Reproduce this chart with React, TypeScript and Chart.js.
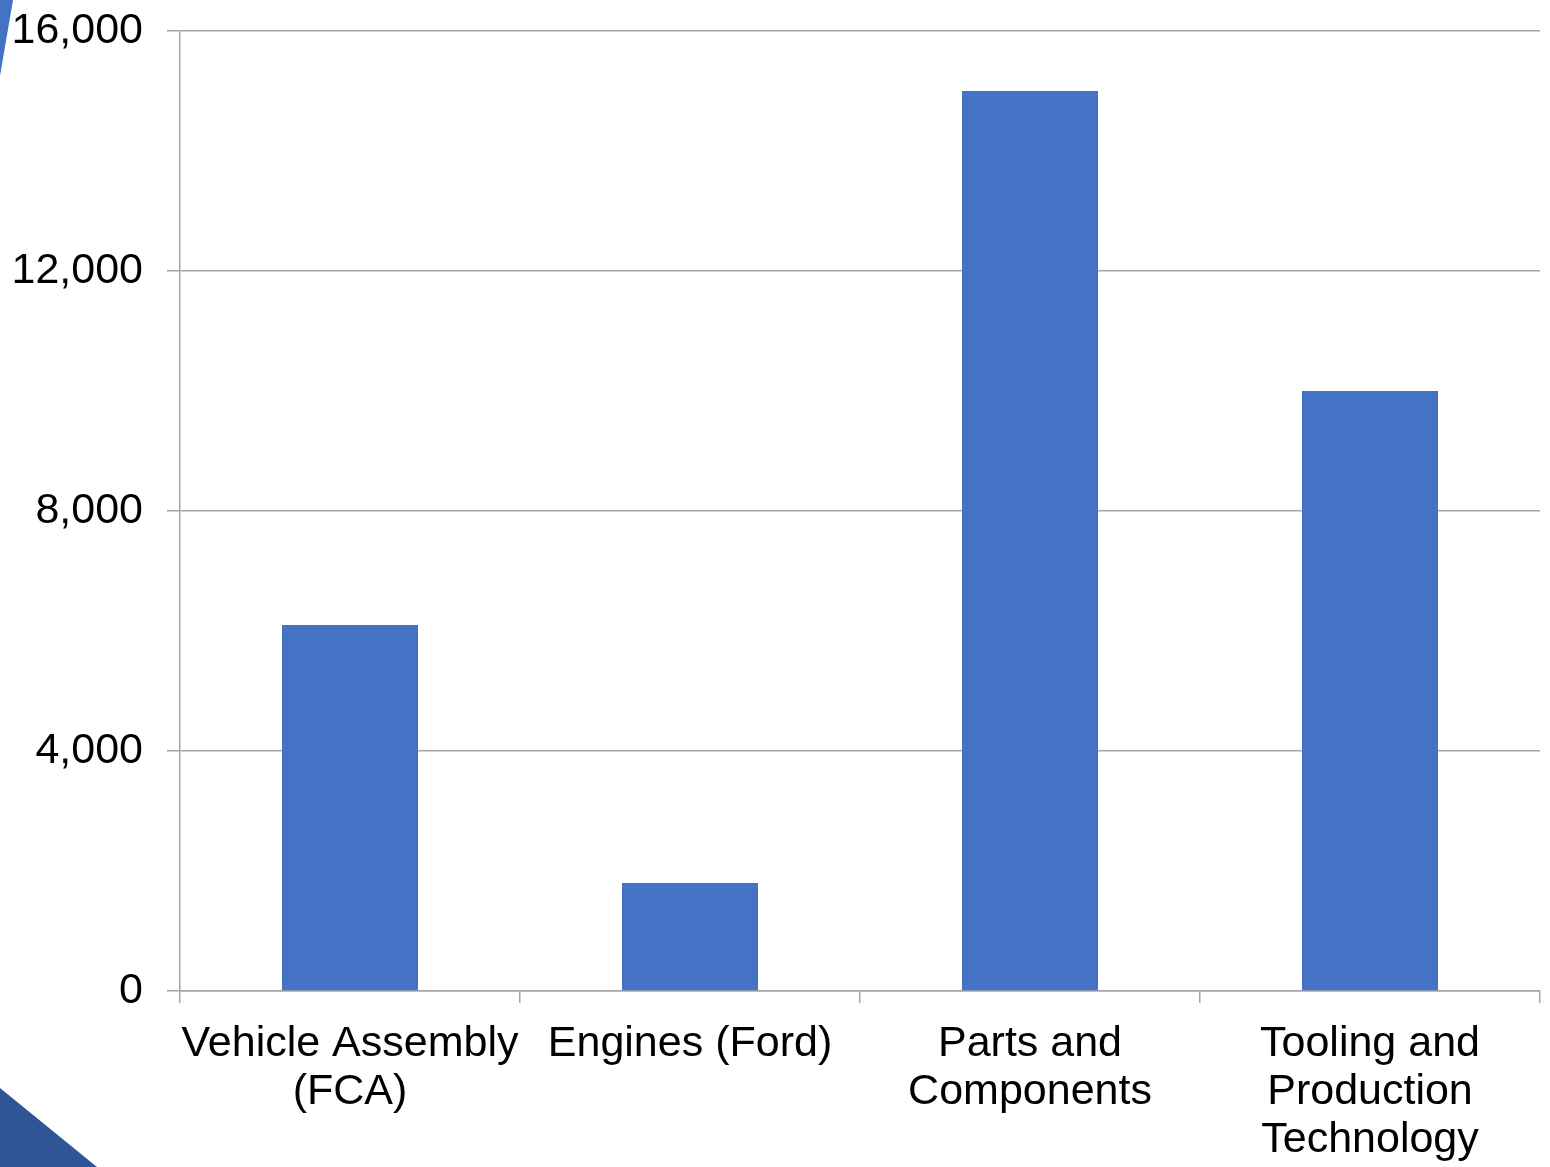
import React, { useEffect, useRef } from "react";
import { Chart, registerables } from "chart.js";

Chart.register(...registerables);

const categories: string[][] = [
  ["Vehicle Assembly", "(FCA)"],
  ["Engines (Ford)"],
  ["Parts and", "Components"],
  ["Tooling and", "Production", "Technology"],
];
const jobs: number[] = [6100, 1800, 15000, 10000];
const yTicks: number[] = [0, 4000, 8000, 12000, 16000];

const FONT = "'Liberation Sans', Arial, sans-serif";

// Slide decorations in the corners of the canvas
const cornerShapes = {
  id: "cornerShapes",
  beforeDraw(chart: Chart) {
    const { ctx, height } = chart;
    ctx.save();
    ctx.fillStyle = "#4472C4";
    ctx.beginPath();
    ctx.moveTo(0, 0);
    ctx.lineTo(13, 0);
    ctx.lineTo(0, 76);
    ctx.closePath();
    ctx.fill();
    ctx.fillStyle = "#2F5597";
    ctx.beginPath();
    ctx.moveTo(0, height - 79);
    ctx.lineTo(97, height);
    ctx.lineTo(0, height);
    ctx.closePath();
    ctx.fill();
    ctx.restore();
  },
};

export default function App() {
  const ref = useRef<HTMLCanvasElement>(null);

  useEffect(() => {
    if (!ref.current) return;
    const chart = new Chart(ref.current, {
      type: "bar",
      data: {
        labels: categories,
        datasets: [
          {
            data: jobs,
            backgroundColor: "#4472C4",
            barPercentage: 0.4,
            categoryPercentage: 1,
          },
        ],
      },
      options: {
        animation: false,
        responsive: false,
        maintainAspectRatio: false,
        layout: { padding: { top: 31, right: 10, left: 0, bottom: 0 } },
        plugins: { legend: { display: false }, tooltip: { enabled: false } },
        scales: {
          x: {
            grid: {
              display: true,
              drawOnChartArea: false,
              offset: true,
              tickLength: 12,
              color: "#A6A6A6",
              lineWidth: 1.5,
            },
            border: { display: true, color: "#A6A6A6", width: 1.5 },
            ticks: {
              color: "#000000",
              font: { family: FONT, size: 43, lineHeight: 1.116 },
              padding: 17,
              maxRotation: 0,
              autoSkip: false,
            },
            afterFit(scale: any) {
              scale.height = 176;
            },
          },
          y: {
            min: 0,
            max: 16000,
            afterBuildTicks(scale: any) {
              scale.ticks = yTicks.map((v) => ({ value: v }));
            },
            grid: {
              color: "#A6A6A6",
              lineWidth: 1.5,
              tickLength: 13,
            },
            border: { display: true, color: "#A6A6A6", width: 1.5 },
            ticks: {
              color: "#000000",
              font: { family: FONT, size: 43 },
              padding: 24,
              callback: (v: any) => Number(v).toLocaleString("en-US"),
            },
            afterFit(scale: any) {
              scale.width = 180;
              scale.paddingTop = 0;
              scale.paddingBottom = 0;
            },
          },
        },
      },
      plugins: [cornerShapes],
    });
    return () => chart.destroy();
  }, []);

  return (
    <div style={{ position: "fixed", left: 0, top: 0, width: 1550, height: 1167, background: "#ffffff" }}>
      <canvas ref={ref} width={1550} height={1167} style={{ display: "block" }} />
    </div>
  );
}
